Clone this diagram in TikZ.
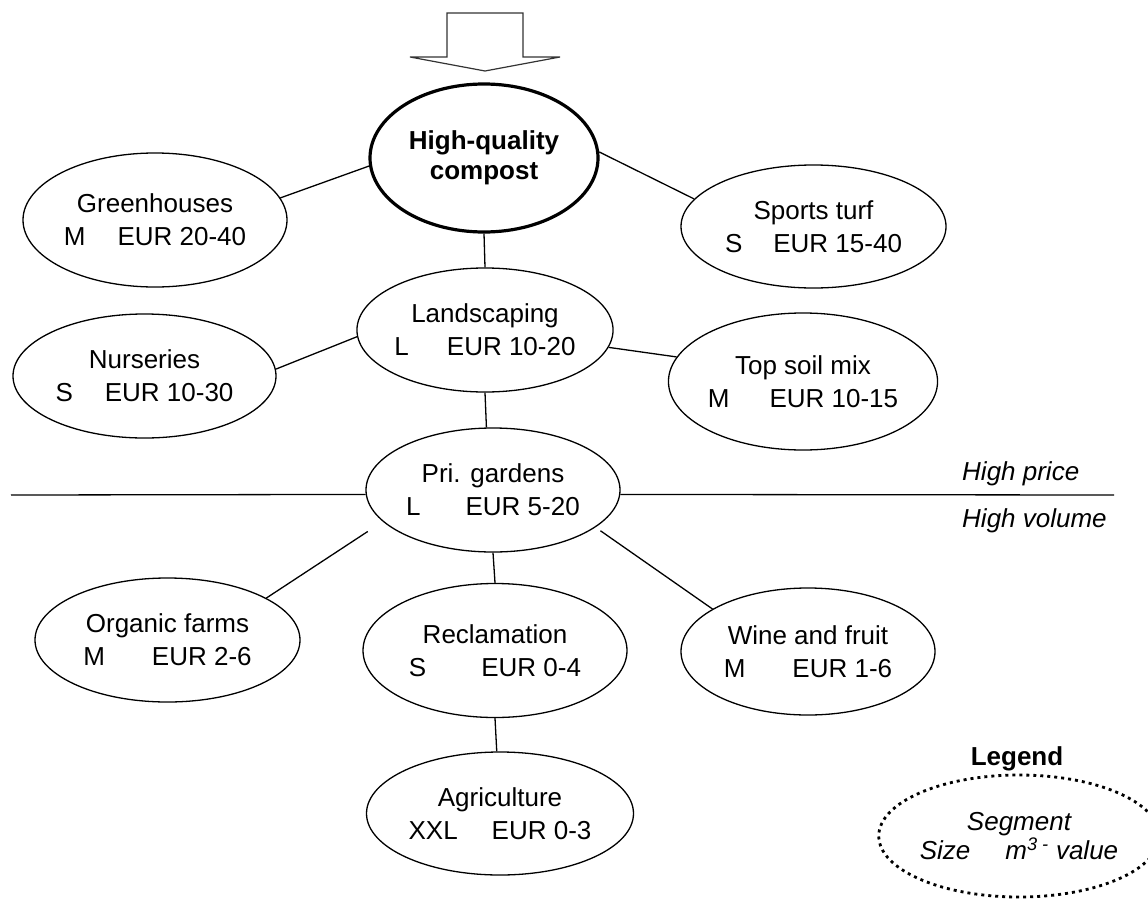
\documentclass[tikz,border=0pt]{standalone}
\usepackage{fontspec}
\setmainfont{Liberation Sans}
\usetikzlibrary{shapes.geometric}
\begin{document}
\begin{tikzpicture}[x=1pt, y=-1pt,
  seg/.style={ellipse, draw, line width=1.3pt, inner sep=0pt, align=center,
    minimum width=256pt, minimum height=126pt, font=\fontsize{26}{33}\selectfont},
  link/.style={line width=1.3pt},
  side/.style={anchor=base west, inner sep=0pt, font=\fontsize{26}{30}\selectfont\itshape}]
	\useasboundingbox (0,0) rectangle (1148,899);
	% Pfeil oben
	\draw[line width=1.2pt, black!80, line join=miter] (447,13) -- (523,13) -- (523,57) -- (560,57) -- (485,71) -- (410,57) -- (447,57) -- cycle;
	
	% Segmente
	\node[seg, line width=3.2pt, font=\fontsize{26}{30}\selectfont\bfseries, minimum width=228pt, minimum height=148pt] (hq) at (484,158) {High-quality\\compost};
	\node[seg, minimum width=264pt, minimum height=134pt] (gh) at (155,220) {Greenhouses\\M\hspace{32pt}EUR 20-40};
	\node[seg, minimum width=265pt, minimum height=123pt] (st) at (813.5,226.5) {Sports turf\\S\hspace{31pt}EUR 15-40};
	\node[seg, minimum width=252pt, minimum height=124pt] (la) at (485,330) {Landscaping\\L\hspace{38pt}EUR 10-20};
	\node[seg, minimum width=263pt, minimum height=124pt] (nu) at (144.5,376) {Nurseries\\S\hspace{32pt}EUR 10-30};
	\node[seg, minimum width=266pt, minimum height=137pt] (ts) at (803,381.5) {Top soil mix\\M\hspace{40pt}EUR 10-15};
	\node[seg, minimum width=254pt, minimum height=124pt] (pg) at (493,490) {Pri. gardens\\L\hspace{45pt}EUR 5-20};
	\node[seg, minimum width=265pt, minimum height=124pt] (of) at (167.5,640) {Organic farms\\M\hspace{47pt}EUR 2-6};
	\node[seg, minimum width=264pt, minimum height=134pt] (rc) at (495,650.5) {Reclamation\\S\hspace{55pt}EUR 0-4};
	\node[seg, minimum width=254pt, minimum height=127pt] (wf) at (808,651.5) {Wine and fruit\\M\hspace{47pt}EUR 1-6};
	\node[seg, minimum width=267pt, minimum height=123pt] (ag) at (500,813.5) {Agriculture\\XXL\hspace{34pt}EUR 0-3};
	
	% Preis / Volumen
	\coordinate (hl) at (11,495);
	\coordinate (hr) at (1114,495);
	\node[side] (hp) at (962,480) {High price};
	\node[side] (hv) at (962,527) {High volume};
	
	% Legende
	\node[font=\fontsize{26}{30}\selectfont\bfseries, anchor=base] (lg) at (1017,765) {Legend};
	\node[ellipse, draw, line width=2.8pt, dash pattern=on 3pt off 4pt, inner sep=0pt, minimum width=254pt, minimum height=122pt, align=center, font=\fontsize{26}{29}\selectfont\itshape] (key) at (1019,836) {Segment\\Size\hspace{35pt}m\textsuperscript{3 -} value};
	
	% Verbindungen
	\draw[link] (gh.10) -- (hq.184);
	\draw[link] (hq.3) -- (st.167);
	\draw[link] (hq.south) -- (la.north);
	\draw[link] (nu.3) -- (la.183);
	\draw[link] (la.352) -- (ts.169);
	\draw[link] (la.south) -- (pg.96);
	\draw[link] (hl) -- (pg.182);
	\draw[link] (pg.358) -- (hr);
	\draw[link, shorten <=18pt] (pg.196.5) -- (of.23);
	\draw[link] (pg.south) -- (rc.north);
	\draw[link, shorten <=6pt] (pg.340) -- (wf.156);
	\draw[link] (rc.south) -- (ag.93);
\end{tikzpicture}
\end{document}
